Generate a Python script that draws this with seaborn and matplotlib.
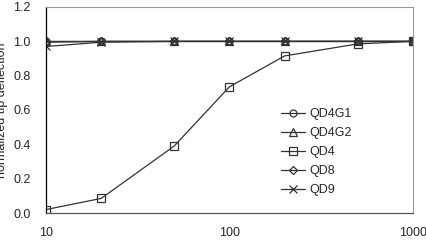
import matplotlib
matplotlib.use("Agg")
import matplotlib.pyplot as plt
import numpy as np
import pandas as pd
import seaborn as sns

# number of elements and normalized tip deflection per element type
elements = [10, 20, 50, 100, 200, 500, 1000]
qd4g1 = [1.0, 1.0, 1.0, 1.0, 1.0, 1.0, 1.0]
qd4g2 = [1.0, 1.0, 1.0, 1.0, 1.0, 1.0, 1.0]
qd4 = [0.02, 0.085, 0.39, 0.735, 0.915, 0.985, 1.0]
qd8 = [0.995, 1.0, 1.0, 1.0, 1.0, 1.0, 1.0]
qd9 = [0.97, 0.995, 1.0, 1.0, 1.0, 1.0, 1.0]

names = ["QD4G1", "QD4G2", "QD4", "QD8", "QD9"]
markers = ["o", "^", "s", "D", "x"]
msizes = [5, 6, 5.2, 4, 6]

df = pd.DataFrame({"elements": elements, "QD4G1": qd4g1, "QD4G2": qd4g2,
                   "QD4": qd4, "QD8": qd8, "QD9": qd9})

sns.set_style("white")
plt.rcParams['font.family'] = ['Liberation Sans', 'DejaVu Sans']

fig, ax = plt.subplots(figsize=(4.26, 2.5), dpi=100)
fig.subplots_adjust(left=0.108, right=0.969, top=0.972, bottom=0.148)

for nm, mk, ms in zip(names, markers, msizes):
    sns.lineplot(data=df, x="elements", y=nm, ax=ax, label=nm, color="#333333",
                 linewidth=0.9, marker=mk, markersize=ms, markerfacecolor="none",
                 markeredgecolor="#333333", markeredgewidth=0.9)

ax.set_xscale("log")
ax.set_xlim(10, 1000)
ax.set_ylim(0, 1.2)
ax.set_yticks(np.arange(0, 1.21, 0.2))
ax.set_yticklabels(["%.1f" % v for v in np.arange(0, 1.21, 0.2)])
ax.set_xticks([10, 100, 1000])
ax.set_xticklabels(["10", "100", "1000"])
ax.minorticks_off()
ax.tick_params(axis="y", direction="out", length=3, width=0.8, color="black",
               labelsize=9, pad=8)
ax.tick_params(axis="x", direction="in", length=3, width=0.8, color="#555555",
               labelsize=9, pad=10)

for s in ["top", "right"]:
    ax.spines[s].set_color("#999999")
    ax.spines[s].set_linewidth(0.8)
ax.spines["left"].set_color("black")
ax.spines["bottom"].set_color("#555555")
ax.spines["left"].set_linewidth(0.9)
ax.spines["bottom"].set_linewidth(0.9)

ax.set_xlabel("number of elements", fontsize=9, labelpad=11)
ax.set_ylabel("normalized tip deflection", fontsize=9, labelpad=4)

leg = ax.legend(loc="upper left", bbox_to_anchor=(0.64, 0.51), frameon=False,
                fontsize=9, handlelength=1.9, labelspacing=0.56, handletextpad=0.4,
                borderpad=0, borderaxespad=0)

plt.savefig("out.png", dpi=100)
plt.close()
